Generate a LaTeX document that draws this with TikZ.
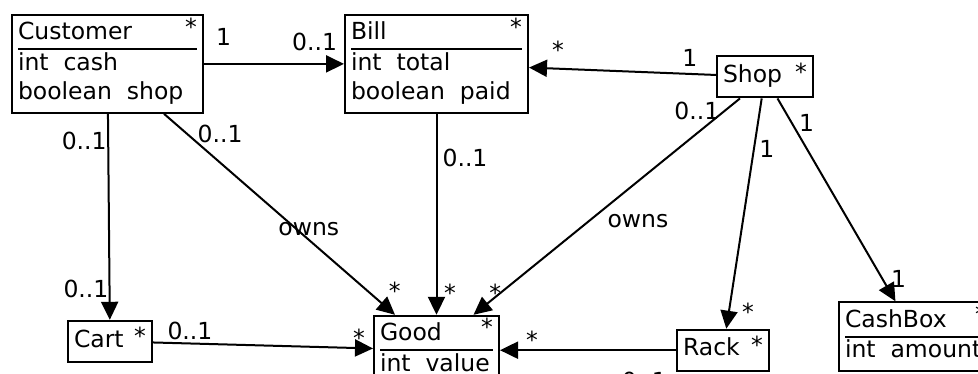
\documentclass[tikz,border=0pt]{standalone}
\usepackage{fontspec}
\setmainfont{DejaVu Sans}[WordSpace=2]
\usetikzlibrary{positioning, arrows.meta}
\setlength{\arrayrulewidth}{1.8pt}

\begin{document}
\begin{tikzpicture}[x=1pt, y=-1pt, font=\fontsize{23.5}{29}\selectfont]

\tikzstyle{arrow} = [line width=2pt, -{Triangle[length=18pt, width=17pt]}]
\tikzset{klass/.style = {rectangle, draw, line width=2pt, inner xsep=6pt, inner ysep=4.5pt}, }
\tikzset{lab/.style = {inner sep=0pt}, }
\tikzset{many/.style = {label={[lab, anchor=north east, xshift=-7pt, yshift=#1]north east:*}}, many/.default=-3.5pt}

\useasboundingbox (0,0) rectangle (978,374);
\clip (0,0) rectangle (978,374);

\node[klass, many, anchor=north west] (cust) at (11,14) { \begin{tabular}{@{}p{179pt}@{}}
		Customer \\
		\hline
		int cash \\
		boolean shop \\
\end{tabular}};
\node[klass, many, right=140pt of cust] (bill) { \begin{tabular}{@{}p{171pt}@{}}
		Bill \\
		\hline
		int total \\
		boolean paid \\
\end{tabular}};
\node[klass, many=-7pt, minimum height=41pt, right=187pt of bill, yshift=-13pt] (shop) { \begin{tabular}{@{}p{84pt}@{}}
		Shop \\
\end{tabular}};
\node[klass, many=-7pt, minimum height=41pt, below=206pt of cust, xshift=2.5pt] (cart) { \begin{tabular}{@{}p{72pt}@{}}
		Cart \\
\end{tabular}};
\node[klass, many, below=201pt of bill] (good) { \begin{tabular}{@{}p{113pt}@{}}
		Good \\
		\hline
		int value \\
\end{tabular}};
\node[klass, many=-7pt, minimum height=41pt, right=176pt of good] (rack) { \begin{tabular}{@{}p{80pt}@{}}
		Rack \\
\end{tabular}};
\node[klass, many, right=68pt of rack, yshift=13.5pt] (cashbox) { \begin{tabular}{@{}p{142pt}@{}}
		CashBox \\
		\hline
		int amount \\
\end{tabular}};

\draw[arrow] (cust.east) -- (bill.west)
	node[lab, pos=0.14, yshift=27pt] (cb1) {1}
	node[lab, pos=0.79, yshift=22pt] (cb2) {0..1};
\draw[arrow] (shop) -- (bill)
	node[lab, pos=0.14, yshift=16pt] (sb1) {1}
	node[lab, pos=0.845, yshift=19.4pt] (sb2) {*};
\draw[arrow] (cust) -- (cart)
	node[lab, pos=0.134, xshift=-24pt] (cc1) {0..1}
	node[lab, pos=0.848, xshift=-23.6pt] (cc2) {0..1};
\draw[arrow] ([xshift=56.5pt]cust.south) -- ([xshift=-41.5pt]good.north)
	node[lab, pos=0.1, xshift=33pt] (cg1) {0..1}
	node[lab, pos=0.575, xshift=12pt] (cg2) {owns}
	node[lab, pos=0.86, xshift=32pt, yshift=-4.5pt] (cg3) {*};
\draw[arrow] (bill) -- (good)
	node[lab, pos=0.218, xshift=28.5pt] (bg1) {0..1}
	node[lab, pos=0.892, xshift=13.5pt] (bg2) {*};
\draw[arrow] ([xshift=-25pt]shop.south) -- ([xshift=37pt]good.north)
	node[lab, pos=0.057, xshift=-28pt] (sg1) {0..1}
	node[lab, pos=0.567, xshift=49pt] (sg2) {owns}
	node[lab, pos=0.9, xshift=-5pt] (sg3) {*};
\draw[arrow] (shop) -- (rack)
	node[lab, pos=0.221, xshift=13pt] (sr1) {1}
	node[lab, pos=0.927, xshift=19pt] (sr2) {*};
\draw[arrow] (shop) -- (cashbox)
	node[lab, pos=0.122, xshift=14.7pt] (sx1) {1}
	node[lab, pos=0.892, xshift=16pt] (sx2) {1};
\draw[arrow] (cart) -- (good)
	node[lab, pos=0.168, yshift=13pt] (cr1) {0..1}
	node[lab, pos=0.936, yshift=10.5pt] (cr2) {*};
\draw[arrow] (rack) -- (good)
	node[lab, pos=0.18, yshift=-31pt] (rg1) {0..1}
	node[lab, pos=0.818, yshift=10.4pt] (rg2) {*};
\end{tikzpicture}
\end{document}
